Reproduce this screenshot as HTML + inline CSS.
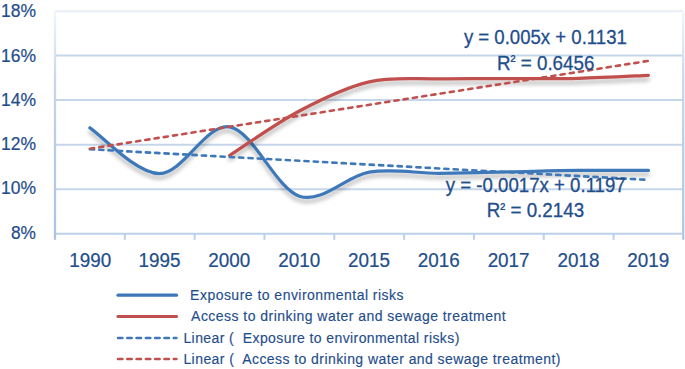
<!DOCTYPE html>
<html><head><meta charset="utf-8"><style>
html,body{margin:0;padding:0;background:#fff;}
svg{display:block;}
text{font-family:"Liberation Sans",sans-serif;fill:#1f4e8c;stroke:#1f4e8c;stroke-width:0.3px;}
.ax{font-size:19.6px;stroke-width:0.22px;}
.eq{font-size:19.5px;}
.yl{font-size:18.8px;}
.lg{font-size:14px;stroke-width:0.15px;}
</style></head><body>
<svg width="685" height="369" viewBox="0 0 685 369">
<defs>
<linearGradient id="rb" gradientUnits="userSpaceOnUse" x1="0" y1="11" x2="0" y2="240"><stop offset="0" stop-color="#f2f5f9"/><stop offset="0.083" stop-color="#e6ecf5"/><stop offset="0.3" stop-color="#c8d7ea"/><stop offset="0.6" stop-color="#b8cce6"/><stop offset="1" stop-color="#abc4e2"/></linearGradient>
<filter id="sh" x="-10%" y="-30%" width="120%" height="160%">
<feGaussianBlur in="SourceAlpha" stdDeviation="2.0"/>
<feOffset dx="0.3" dy="3.6" result="b"/>
<feComponentTransfer><feFuncA type="linear" slope="0.30"/></feComponentTransfer>
<feMerge><feMergeNode/><feMergeNode in="SourceGraphic"/></feMerge>
</filter>
</defs>
<rect width="685" height="369" fill="#fff"/>
<line x1="55.0" y1="11.20" x2="683.4" y2="11.20" stroke="#edf1f7" stroke-width="2.4"/>
<line x1="55.0" y1="55.56" x2="683.4" y2="55.56" stroke="#c6d6ea" stroke-width="2"/>
<line x1="55.0" y1="100.12" x2="683.4" y2="100.12" stroke="#c6d6ea" stroke-width="2"/>
<line x1="55.0" y1="144.68" x2="683.4" y2="144.68" stroke="#c6d6ea" stroke-width="2"/>
<line x1="55.0" y1="189.24" x2="683.4" y2="189.24" stroke="#c6d6ea" stroke-width="2"/>
<line x1="683.2" y1="11.00" x2="683.2" y2="239.80" stroke="url(#rb)" stroke-width="2.2"/>
<line x1="55.0" y1="233.80" x2="683.4" y2="233.80" stroke="#bcd0e8" stroke-width="2"/>
<line x1="124.82" y1="233.80" x2="124.82" y2="239.80" stroke="#bcd0e8" stroke-width="2"/>
<line x1="194.64" y1="233.80" x2="194.64" y2="239.80" stroke="#bcd0e8" stroke-width="2"/>
<line x1="264.47" y1="233.80" x2="264.47" y2="239.80" stroke="#bcd0e8" stroke-width="2"/>
<line x1="334.29" y1="233.80" x2="334.29" y2="239.80" stroke="#bcd0e8" stroke-width="2"/>
<line x1="404.11" y1="233.80" x2="404.11" y2="239.80" stroke="#bcd0e8" stroke-width="2"/>
<line x1="473.93" y1="233.80" x2="473.93" y2="239.80" stroke="#bcd0e8" stroke-width="2"/>
<line x1="543.76" y1="233.80" x2="543.76" y2="239.80" stroke="#bcd0e8" stroke-width="2"/>
<line x1="613.58" y1="233.80" x2="613.58" y2="239.80" stroke="#bcd0e8" stroke-width="2"/>
<line x1="55.0" y1="11.00" x2="55.0" y2="239.80" stroke="url(#rb)" stroke-width="2.3"/>

<text x="1.00" y="17.20" class="ax yl" textLength="35.0" lengthAdjust="spacingAndGlyphs">18%</text>
<text x="1.00" y="61.50" class="ax yl" textLength="35.0" lengthAdjust="spacingAndGlyphs">16%</text>
<text x="1.00" y="105.80" class="ax yl" textLength="35.0" lengthAdjust="spacingAndGlyphs">14%</text>
<text x="1.00" y="150.10" class="ax yl" textLength="35.0" lengthAdjust="spacingAndGlyphs">12%</text>
<text x="1.00" y="194.40" class="ax yl" textLength="35.0" lengthAdjust="spacingAndGlyphs">10%</text>
<text x="11.00" y="238.70" class="ax yl" textLength="25.0" lengthAdjust="spacingAndGlyphs">8%</text>

<text x="90.21" y="267.1" text-anchor="middle" class="ax" textLength="42" lengthAdjust="spacingAndGlyphs">1990</text>
<text x="159.53" y="267.1" text-anchor="middle" class="ax" textLength="42" lengthAdjust="spacingAndGlyphs">1995</text>
<text x="229.36" y="267.1" text-anchor="middle" class="ax" textLength="42" lengthAdjust="spacingAndGlyphs">2000</text>
<text x="299.18" y="267.1" text-anchor="middle" class="ax" textLength="42" lengthAdjust="spacingAndGlyphs">2010</text>
<text x="369.00" y="267.1" text-anchor="middle" class="ax" textLength="42" lengthAdjust="spacingAndGlyphs">2015</text>
<text x="438.82" y="267.1" text-anchor="middle" class="ax" textLength="42" lengthAdjust="spacingAndGlyphs">2016</text>
<text x="508.64" y="267.1" text-anchor="middle" class="ax" textLength="42" lengthAdjust="spacingAndGlyphs">2017</text>
<text x="578.47" y="267.1" text-anchor="middle" class="ax" textLength="42" lengthAdjust="spacingAndGlyphs">2018</text>
<text x="648.29" y="267.1" text-anchor="middle" class="ax" textLength="42" lengthAdjust="spacingAndGlyphs">2019</text>

<path d="M89.91,127.80 C101.55,135.43 136.46,173.75 159.73,173.60 C183.01,173.45 206.28,123.13 229.56,126.90 C252.83,130.67 276.10,188.65 299.38,196.20 C322.65,203.75 345.93,176.02 369.20,172.20 C392.47,168.38 415.75,173.35 439.02,173.30 C462.30,173.25 485.57,172.38 508.84,171.90 C532.12,171.42 555.39,170.65 578.67,170.40 C601.94,170.15 636.85,170.40 648.49,170.40" fill="none" stroke="#3e78b8" stroke-width="3.2" stroke-linecap="round" stroke-linejoin="round" filter="url(#sh)"/>
<path d="M229.56,155.50 C241.19,148.08 276.10,123.27 299.38,111.00 C322.65,98.73 345.93,87.27 369.20,81.90 C392.47,76.53 415.75,79.35 439.02,78.80 C462.30,78.25 485.57,78.68 508.84,78.60 C532.12,78.52 555.39,78.85 578.67,78.30 C601.94,77.75 636.85,75.80 648.49,75.30" fill="none" stroke="#c0504d" stroke-width="3.2" stroke-linecap="round" stroke-linejoin="round" filter="url(#sh)"/>
<line x1="89.91" y1="149.30" x2="648.50" y2="179.90" stroke="#3e78b8" stroke-width="2.6" stroke-dasharray="4.2 5.14" stroke-linecap="round"/>
<line x1="89.91" y1="148.70" x2="647.70" y2="61.00" stroke="#c0504d" stroke-width="2.6" stroke-dasharray="4.2 5.14" stroke-linecap="round"/>
<text x="463.9" y="44.4" class="eq" textLength="162.93" lengthAdjust="spacingAndGlyphs" xml:space="preserve">y = 0.005x + 0.1131</text>
<text x="497.03" y="69.6" class="eq" textLength="97.37" lengthAdjust="spacingAndGlyphs" xml:space="preserve">R<tspan style="font-size:15.5px" dy="-3.2">²</tspan><tspan dy="3.2"> = 0.6456</tspan></text>
<text x="445.8" y="191.9" class="eq" textLength="179.9" lengthAdjust="spacingAndGlyphs" xml:space="preserve">y = -0.0017x + 0.1197</text>
<text x="486.73" y="216.7" class="eq" textLength="97.37" lengthAdjust="spacingAndGlyphs" xml:space="preserve">R<tspan style="font-size:15.5px" dy="-3.2">²</tspan><tspan dy="3.2"> = 0.2143</tspan></text>
<line x1="118" y1="295.2" x2="176.5" y2="295.2" stroke="#3e78b8" stroke-width="3.2" stroke-linecap="round"/>
<line x1="118" y1="316.5" x2="176.5" y2="316.5" stroke="#c0504d" stroke-width="3.2" stroke-linecap="round"/>
<line x1="118" y1="338" x2="176.4" y2="338" stroke="#3e78b8" stroke-width="2.6" stroke-dasharray="4.4 4.9" stroke-linecap="round"/>
<line x1="118" y1="359" x2="176.4" y2="359" stroke="#c0504d" stroke-width="2.6" stroke-dasharray="4.4 4.9" stroke-linecap="round"/>
<text x="190.1" y="300.1" class="lg" textLength="213.4" lengthAdjust="spacing" xml:space="preserve">Exposure to environmental risks</text>
<text x="191.1" y="321.4" class="lg" textLength="314.5" lengthAdjust="spacing" xml:space="preserve">Access to drinking water and sewage treatment</text>
<text x="183.4" y="342.8" class="lg" textLength="275.9" lengthAdjust="spacing" xml:space="preserve">Linear (  Exposure to environmental risks)</text>
<text x="183.4" y="363.9" class="lg" textLength="377.1" lengthAdjust="spacing" xml:space="preserve">Linear (  Access to drinking water and sewage treatment)</text>
</svg>
</body></html>
